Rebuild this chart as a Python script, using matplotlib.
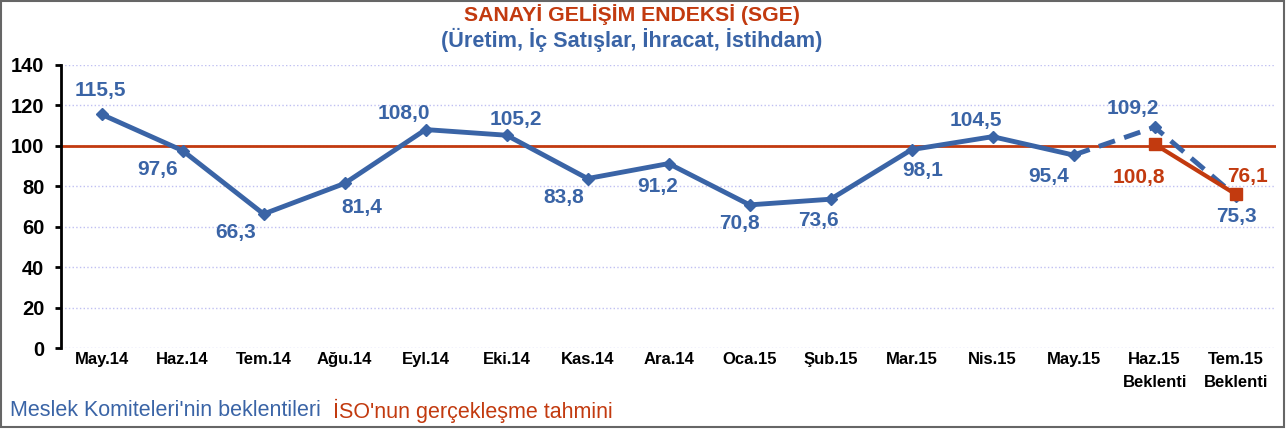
import numpy as np
import matplotlib.pyplot as plt
from matplotlib.patches import Rectangle

plt.rcParams['font.family'] = ['Liberation Sans', 'DejaVu Sans']

months = ['May.14', 'Haz.14', 'Tem.14', 'Ağu.14', 'Eyl.14', 'Eki.14', 'Kas.14',
          'Ara.14', 'Oca.15', 'Şub.15', 'Mar.15', 'Nis.15', 'May.15',
          'Haz.15\nBeklenti', 'Tem.15\nBeklenti']
sge = [115.5, 97.6, 66.3, 81.4, 108.0, 105.2, 83.8, 91.2, 70.8, 73.6, 98.1,
       104.5, 95.4, 109.2, 75.3]
iso = [100.8, 76.1]          # Haz.15, Tem.15
n_actual = 13                # solid part ends at May.15

blue = '#3A64A6'
red = '#C23A0F'

fig = plt.figure(figsize=(12.87, 4.32), dpi=100)
ax = fig.add_axes([0.0475, 0.194, 0.944, 0.656])
x = np.arange(len(months))

ax.axhline(100, color=red, lw=2, zorder=2)
ax.plot(x[:n_actual], sge[:n_actual], color=blue, lw=3.5, marker='D', ms=6, zorder=3)
ax.plot(x[n_actual - 1:], sge[n_actual - 1:], color=blue, lw=3.5, ls=(0, (3.5, 2)),
        marker='D', ms=6, markevery=[1, 2], zorder=3)
ax.plot(x[-2:], iso, color=red, lw=3, marker='s', ms=9, zorder=4)

# label offsets in pixels (dx, dy)
offs = [(-1, 24), (-25, -19), (-28, -19), (17, -24), (-22, 16), (9, 16),
        (-24, -19), (-11, -23), (-10, -19), (-12, -21), (11, -21), (-17, 16),
        (-25, -21), (-22, 19), (1, -21)]
for i, v in enumerate(sge):
    ax.annotate(f'{v:.1f}'.replace('.', ','), (x[i], v), xytext=offs[i],
                textcoords='offset pixels', ha='center', va='center',
                color=blue, fontsize=15, fontweight='bold')
iso_offs = [(-16, -33), (12, 18)]
for j, v in enumerate(iso):
    ax.annotate(f'{v:.1f}'.replace('.', ','), (x[13 + j], v), xytext=iso_offs[j],
                textcoords='offset pixels', ha='center', va='center',
                color=red, fontsize=15, fontweight='bold', zorder=5)

ax.set_xlim(-0.5, len(months) - 0.5)
ax.set_ylim(0, 140)
ax.set_yticks(range(0, 141, 20))
ax.set_xticks(x)
ax.set_xticklabels(months, fontsize=12, fontweight='bold', linespacing=1.6)
ax.tick_params(axis='x', length=0, pad=3)
ax.tick_params(axis='y', labelsize=14.5, width=2, length=4, pad=8, direction='out')
for t in ax.get_yticklabels():
    t.set_fontweight('bold')
ax.grid(axis='y', color='#C0C0F2', ls=':', lw=1)
for s in ['top', 'right', 'bottom']:
    ax.spines[s].set_visible(False)
ax.spines['left'].set_linewidth(2)

fig.text(0.491, 0.967, 'SANAYİ GELİŞİM ENDEKSİ (SGE)', ha='center', va='center',
         color=red, fontsize=15.3, fontweight='bold')
fig.text(0.491, 0.907, '(Üretim, İç Satışlar, İhracat, İstihdam)', ha='center',
         va='center', color=blue, fontsize=15.6, fontweight='bold')
fig.text(0.008, 0.049, "Meslek Komiteleri'nin beklentileri", color=blue,
         fontsize=15.5, va='center')
fig.text(0.259, 0.049, "İSO'nun gerçekleşme tahmini", color=red,
         fontsize=15.5, va='center')
fig.patches.append(Rectangle((0.001, 0.012), 0.997, 0.986, transform=fig.transFigure,
                             fill=False, ec='#666666', lw=1.5))

plt.savefig('out.png', dpi=100)
